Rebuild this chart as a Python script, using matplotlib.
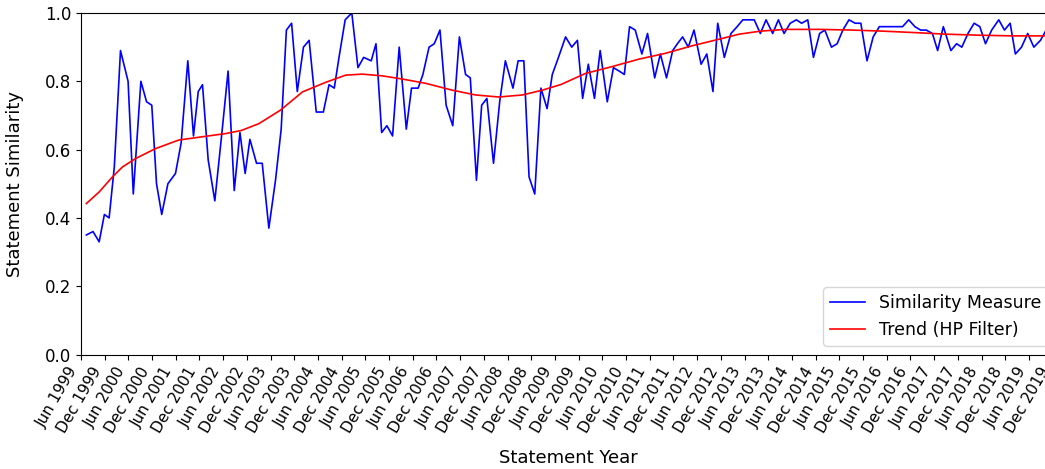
import numpy as np
import matplotlib
matplotlib.use('Agg')
import matplotlib.pyplot as plt

# дата заявления (десятичный год) и мера сходства
stmt_years = [
    1999.53, 1999.67, 1999.80, 1999.91, 2000.01, 2000.12, 2000.25, 2000.41, 2000.52, 2000.68,
    2000.80, 2000.91, 2001.01, 2001.12, 2001.25, 2001.41, 2001.53, 2001.67, 2001.79, 2001.89,
    2001.98, 2002.10, 2002.24, 2002.39, 2002.52, 2002.65, 2002.77, 2002.88, 2002.98, 2003.12,
    2003.24, 2003.38, 2003.52, 2003.64, 2003.75, 2003.86, 2003.98, 2004.11, 2004.23, 2004.38,
    2004.53, 2004.65, 2004.76, 2004.86, 2004.99, 2005.13, 2005.26, 2005.38, 2005.54, 2005.64,
    2005.76, 2005.87, 2005.99, 2006.13, 2006.28, 2006.39, 2006.53, 2006.63, 2006.76, 2006.87,
    2006.99, 2007.12, 2007.26, 2007.40, 2007.53, 2007.63, 2007.76, 2007.87, 2007.98, 2008.12,
    2008.25, 2008.37, 2008.53, 2008.64, 2008.76, 2008.87, 2008.99, 2009.12, 2009.25, 2009.36,
    2009.49, 2009.64, 2009.77, 2009.89, 2010.00, 2010.12, 2010.25, 2010.37, 2010.52, 2010.65,
    2010.77, 2010.88, 2010.99, 2011.11, 2011.25, 2011.37, 2011.52, 2011.64, 2011.77, 2011.90,
    2012.00, 2012.11, 2012.23, 2012.35, 2012.50, 2012.62, 2012.75, 2012.85, 2012.99, 2013.13,
    2013.26, 2013.38, 2013.50, 2013.62, 2013.75, 2013.87, 2014.01, 2014.13, 2014.25, 2014.38,
    2014.51, 2014.62, 2014.75, 2014.87, 2015.00, 2015.11, 2015.25, 2015.37, 2015.49, 2015.62,
    2015.75, 2015.87, 2016.00, 2016.13, 2016.26, 2016.38, 2016.51, 2016.63, 2016.75, 2016.88,
    2017.01, 2017.13, 2017.25, 2017.38, 2017.49, 2017.61, 2017.77, 2017.89, 2018.00, 2018.13,
    2018.26, 2018.38, 2018.50, 2018.63, 2018.78, 2018.90, 2019.02, 2019.13, 2019.26, 2019.39,
    2019.52, 2019.66, 2019.78,
]
similarity = [
    0.35, 0.36, 0.33, 0.41, 0.40, 0.55, 0.89, 0.80, 0.47, 0.80,
    0.74, 0.73, 0.50, 0.41, 0.50, 0.53, 0.62, 0.86, 0.64, 0.77,
    0.79, 0.57, 0.45, 0.65, 0.83, 0.48, 0.65, 0.53, 0.63, 0.56,
    0.56, 0.37, 0.51, 0.66, 0.95, 0.97, 0.77, 0.90, 0.92, 0.71,
    0.71, 0.79, 0.78, 0.87, 0.98, 1.00, 0.84, 0.87, 0.86, 0.91,
    0.65, 0.67, 0.64, 0.90, 0.66, 0.78, 0.78, 0.82, 0.90, 0.91,
    0.95, 0.73, 0.67, 0.93, 0.82, 0.81, 0.51, 0.73, 0.75, 0.56,
    0.74, 0.86, 0.78, 0.86, 0.86, 0.52, 0.47, 0.78, 0.72, 0.82,
    0.87, 0.93, 0.90, 0.92, 0.75, 0.85, 0.75, 0.89, 0.74, 0.84,
    0.83, 0.82, 0.96, 0.95, 0.88, 0.94, 0.81, 0.88, 0.81, 0.89,
    0.91, 0.93, 0.90, 0.95, 0.85, 0.88, 0.77, 0.97, 0.87, 0.94,
    0.96, 0.98, 0.98, 0.98, 0.94, 0.98, 0.94, 0.98, 0.94, 0.97,
    0.98, 0.97, 0.98, 0.87, 0.94, 0.95, 0.90, 0.91, 0.95, 0.98,
    0.97, 0.97, 0.86, 0.93, 0.96, 0.96, 0.96, 0.96, 0.96, 0.98,
    0.96, 0.95, 0.95, 0.94, 0.89, 0.96, 0.89, 0.91, 0.90, 0.94,
    0.97, 0.96, 0.91, 0.95, 0.98, 0.95, 0.97, 0.88, 0.90, 0.94,
    0.90, 0.92, 0.95,
]

# тренд (HP-фильтр)
trend_years = [
    1999.53, 1999.80, 2000.08, 2000.29, 2000.57, 2000.99, 2001.48, 2002.05, 2002.47, 2002.80,
    2003.17, 2003.63, 2004.09, 2004.58, 2005.00, 2005.35, 2005.77, 2006.18, 2006.69, 2007.25,
    2007.74, 2008.23, 2008.73, 2009.15, 2009.55, 2010.06, 2010.62, 2011.19, 2011.75, 2012.31,
    2012.93, 2013.30, 2013.76, 2014.28, 2014.99, 2015.69, 2016.31, 2016.95, 2017.66, 2018.36,
    2019.06, 2019.78,
]
trend_vals = [
    0.442, 0.476, 0.520, 0.549, 0.574, 0.603, 0.628, 0.639, 0.647, 0.656,
    0.676, 0.716, 0.769, 0.797, 0.818, 0.821, 0.816, 0.807, 0.794, 0.774,
    0.760, 0.754, 0.760, 0.774, 0.791, 0.823, 0.843, 0.865, 0.882, 0.904,
    0.925, 0.938, 0.947, 0.952, 0.952, 0.950, 0.947, 0.943, 0.938, 0.935,
    0.933, 0.933,
]

# подписи оси X: июнь и декабрь каждого года
tick_pos = []
tick_labels = []
for year in range(1999, 2020):
    tick_pos += [year + 5 / 12, year + 11 / 12]
    tick_labels += ['Jun %d' % year, 'Dec %d' % year]

fig = plt.figure(figsize=(10.45, 4.69), dpi=100)
ax = fig.add_axes([81 / 1045, 114.5 / 469, 975.6 / 1045, 341.5 / 469])

ax.plot(stmt_years, similarity, color='blue', lw=1.2, label='Similarity Measure')
ax.plot(trend_years, trend_vals, color='red', lw=1.2, label='Trend (HP Filter)')

ax.set_xlim(1999 + 5 / 12, 2020.0)
ax.set_ylim(0, 1.0)
ax.set_xticks(tick_pos)
ax.set_xticklabels(tick_labels, rotation=60, ha='right', fontsize=11)
ax.set_yticks(np.arange(0, 1.01, 0.2))
ax.tick_params(axis='y', labelsize=12)

ax.set_xlabel('Statement Year', fontsize=13)
ax.set_ylabel('Statement Similarity', fontsize=13)
ax.xaxis.set_label_coords(0.5, -0.277)
ax.yaxis.set_label_coords(-0.058, 0.5)

ax.legend(loc='lower right', fontsize=12.5)

fig.savefig('out.png', dpi=100)
